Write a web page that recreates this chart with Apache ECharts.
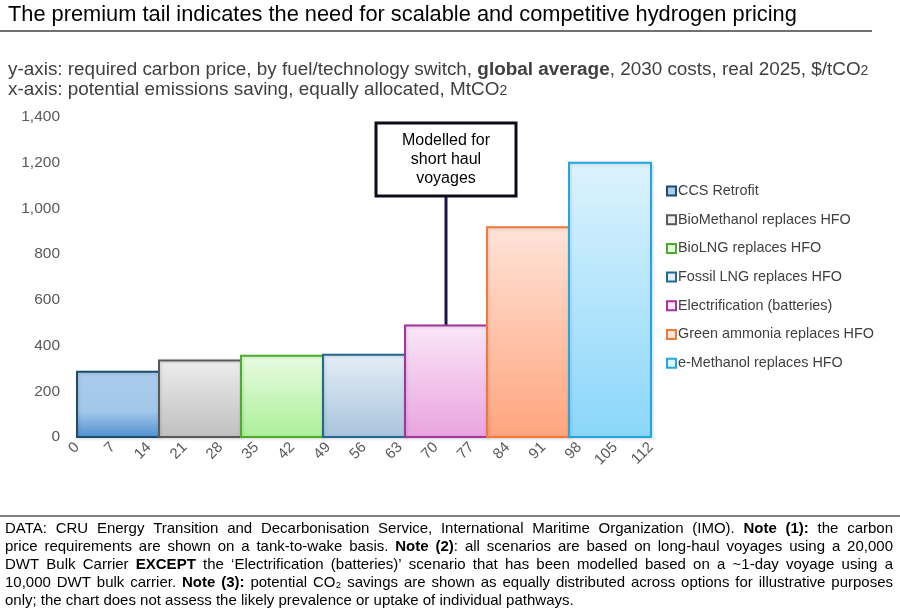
<!DOCTYPE html>
<html>
<head>
<meta charset="utf-8">
<script src="https://cdn.jsdelivr.net/npm/echarts@6/dist/echarts.min.js"></script>
<style>
  html, body { margin: 0; padding: 0; background: #fff; }
  #main { width: 900px; height: 611px; }
</style>
</head>
<body>
<div id="main"></div>
<script>
// options, in order along the curve
const names = ['CCS Retrofit', 'BioMethanol replaces HFO', 'BioLNG replaces HFO', 'Fossil LNG replaces HFO',
  'Electrification (batteries)', 'Green ammonia replaces HFO', 'e-Methanol replaces HFO'];
// required carbon price, $/tCO2
const prices = [285, 335, 355, 360, 488, 918, 1200];
// potential saving, MtCO2 (equally allocated)
const savings = [16, 16, 16, 16, 16, 16, 16];
const xTicks = [0, 7, 14, 21, 28, 35, 42, 49, 56, 63, 70, 77, 84, 91, 98, 105, 112];
const yTicks = [0, 200, 400, 600, 800, 1000, 1200, 1400];

// top colour, bottom colour, border
const palette = [
  ['#a9ccec', '#4f8fd0', '#1e4d6b'],
  ['#ededed', '#bfbfbf', '#595959'],
  ['#e8fce2', '#acef98', '#4aae2c'],
  ['#e5eef7', '#a9c3dc', '#1f6a8e'],
  ['#fae7f8', '#e9a3df', '#a2359e'],
  ['#ffe4d9', '#ffa47d', '#f07a3c'],
  ['#ddf3fd', '#8ad6fa', '#22a7de']
];

const chart = echarts.init(document.getElementById('main'));

let start = 0;
const series = names.map(function (n, i) {
  const x0 = start;
  start += savings[i];
  const c = palette[i];
  const grad = i === 0
    ? new echarts.graphic.LinearGradient(0, 0, 0, 1, [
        { offset: 0, color: c[0] }, { offset: 0.6, color: '#a3c7ea' }, { offset: 1, color: c[1] }])
    : new echarts.graphic.LinearGradient(0, 0, 0, 1, [
        { offset: 0, color: c[0] }, { offset: 1, color: c[1] }]);
  return {
    name: n,
    type: 'custom',
    itemStyle: { color: c[0], borderColor: c[2], borderWidth: 1.5 },
    encode: { x: [0, 1], y: 2 },
    data: [[x0, start, prices[i]]],
    renderItem: function (params, api) {
      const p0 = api.coord([api.value(0), api.value(2)]);
      const p1 = api.coord([api.value(1), 0]);
      return {
        type: 'rect',
        shape: { x: p0[0], y: p0[1], width: p1[0] - p0[0], height: p1[1] - p0[1] },
        style: { fill: grad, stroke: c[2], lineWidth: 2,
          shadowBlur: 3, shadowColor: 'rgba(0,0,0,0.15)', shadowOffsetX: 1, shadowOffsetY: 1 }
      };
    }
  };
});

const font = 'Arial, "Liberation Sans", sans-serif';
const footLines = [
  [['DATA: CRU Energy Transition and Decarbonisation Service, International Maritime Organization (IMO). ', 'n'], ['Note (1):', 'b'], [' the carbon', 'n']],
  [['price requirements are shown on a tank-to-wake basis. ', 'n'], ['Note (2)', 'b'], [': all scenarios are based on long-haul voyages using a 20,000', 'n']],
  [['DWT Bulk Carrier ', 'n'], ['EXCEPT', 'b'], [' the \u2018Electrification (batteries)\u2019 scenario that has been modelled based on a ~1-day voyage using a', 'n']],
  [['10,000 DWT bulk carrier. ', 'n'], ['Note (3):', 'b'], [' potential CO\u2082 savings are shown as equally distributed across options for illustrative purposes', 'n']],
  [['only; the chart does not assess the likely prevalence or uptake of individual pathways.', 'n']]
];
const footSize = 15;
const footFonts = { n: footSize + 'px ' + font, b: 'bold ' + footSize + 'px ' + font };
const ctx = document.createElement('canvas').getContext('2d');
function measure(txt, st) { ctx.font = footFonts[st]; return ctx.measureText(txt).width; }

const graphics = [
  { type: 'text', left: 8, top: 4, style: { text: 'The premium tail indicates the need for scalable and competitive hydrogen pricing', font: '21.8px ' + font, fill: '#000' } },
  { type: 'line', shape: { x1: 0, y1: 31, x2: 872, y2: 31 }, style: { stroke: '#404040', lineWidth: 1.5 } },
  { type: 'text', left: 8, top: 60, style: {
      text: '{n|y-axis: required carbon price, by fuel/technology switch, }{b|global average}{n|, 2030 costs, real 2025, $/tCO}{s|2}',
      rich: { n: { font: '18.9px ' + font, fill: '#404040' }, b: { font: 'bold 18.9px ' + font, fill: '#404040' }, s: { font: '14px ' + font, fill: '#404040', padding: [4, 0, 0, 0] } } } },
  { type: 'text', left: 8, top: 80, style: {
      text: '{n|x-axis: potential emissions saving, equally allocated, MtCO}{s|2}',
      rich: { n: { font: '18.9px ' + font, fill: '#404040' }, s: { font: '14px ' + font, fill: '#404040', padding: [4, 0, 0, 0] } } } },
  { type: 'line', shape: { x1: 0, y1: 516, x2: 900, y2: 516 }, style: { stroke: '#7f7f7f', lineWidth: 2 } },
  // annotation box
  { type: 'line', shape: { x1: 446, y1: 196, x2: 446, y2: 325 }, style: { stroke: '#1c1442', lineWidth: 3 } },
  { type: 'rect', shape: { x: 376, y: 123, width: 140, height: 73 }, style: { fill: '#fff', stroke: '#0d0d1a', lineWidth: 3 } },
  { type: 'text', x: 446, y: 131, style: { text: 'Modelled for\nshort haul\nvoyages', font: '16px ' + font, fill: '#000', align: 'center', lineHeight: 19 } }
];

// justified footnote: each word placed separately
footLines.forEach(function (parts, li) {
  const words = [];
  let cur = [];
  parts.forEach(function (p) {
    p[0].split(' ').forEach(function (piece, j) {
      if (j > 0 && cur.length) { words.push(cur); cur = []; }
      if (piece) cur.push([piece, p[1]]);
    });
  });
  if (cur.length) words.push(cur);
  const widths = words.map(function (w) { return w.reduce(function (s, r) { return s + measure(r[0], r[1]); }, 0); });
  const total = widths.reduce(function (a, b) { return a + b; }, 0);
  const last = li === footLines.length - 1;
  const gap = last ? measure(' ', 'n') : (888 - total) / (words.length - 1);
  let x = 5;
  words.forEach(function (w, wi) {
    graphics.push({ type: 'text', x: x, y: 521 + li * 18, style: {
      text: w.map(function (r) { return '{' + r[1] + '|' + r[0] + '}'; }).join(''),
      rich: { n: { font: footFonts.n, fill: '#000' }, b: { font: footFonts.b, fill: '#000' } } } });
    x += widths[wi] + gap;
  });
});

chart.setOption({
  animation: false,
  grid: { left: 77, right: 249, top: 117, bottom: 174, containLabel: false },
  legend: {
    orient: 'vertical', left: 661, top: 178, itemWidth: 9, itemHeight: 9, itemGap: 12.7,
    icon: 'rect',
    textStyle: { fontSize: 14.4, lineHeight: 16, color: '#404040', fontFamily: font, padding: [0, 0, 0, -3] },
    data: names
  },
  xAxis: {
    type: 'value', min: xTicks[0], max: xTicks[xTicks.length - 1], interval: 7,
    axisLine: { show: false }, axisTick: { show: false }, splitLine: { show: false },
    axisLabel: { rotate: 45, fontSize: 15, color: '#595959', fontFamily: font, margin: 8,
      formatter: function (v) { return xTicks.indexOf(v) >= 0 ? String(v) : ''; } }
  },
  yAxis: {
    type: 'value', min: yTicks[0], max: yTicks[yTicks.length - 1], interval: 200,
    axisLine: { show: false }, axisTick: { show: false }, splitLine: { show: false },
    axisLabel: { fontSize: 15.5, color: '#595959', fontFamily: font, margin: 17,
      formatter: function (v) { return v.toLocaleString('en-US'); } }
  },
  series: series,
  graphic: graphics
});
</script>
</body>
</html>
